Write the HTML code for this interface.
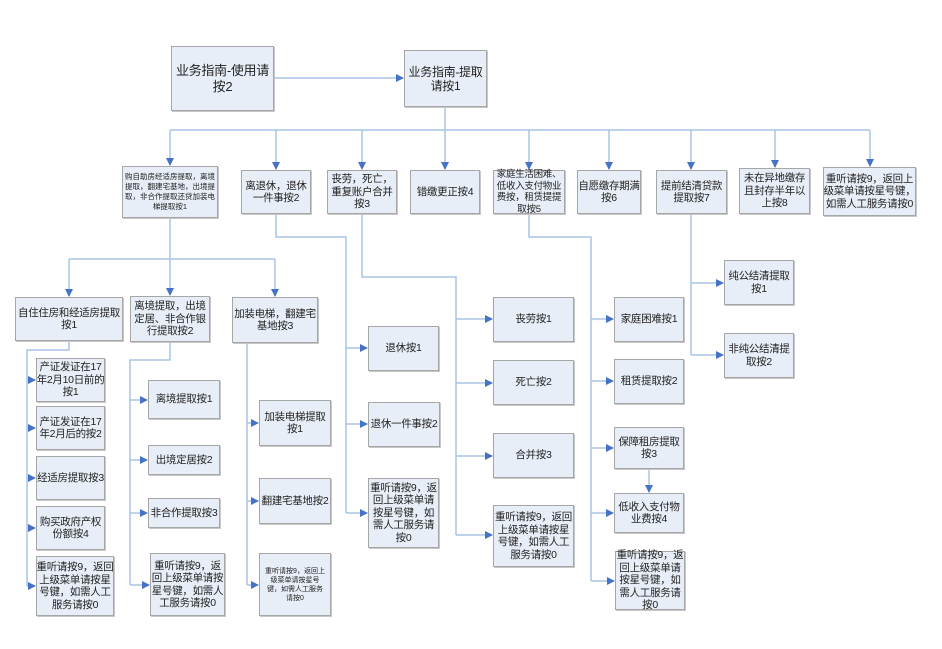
<!DOCTYPE html>
<html><head><meta charset="utf-8"><style>
body{margin:0;background:#fff;}
#c{position:relative;width:942px;height:649px;overflow:hidden;font-family:"Liberation Sans","Noto Sans CJK SC",sans-serif;}
.b{position:absolute;box-sizing:border-box;background:#e8eef7;border:1px solid #a6a6a6;box-shadow:1px 1px 0 #c8c8c8;display:flex;align-items:center;justify-content:center;text-align:center;font-size:10.5px;line-height:12.5px;letter-spacing:-0.3px;color:#222;padding:0;}
.b span{display:block;margin:0 -2px;}
svg{position:absolute;left:0;top:0;}
</style></head><body><div id="c">
<svg width="942" height="649">
<defs><marker id="a" markerWidth="8" markerHeight="8" refX="7" refY="4" orient="auto" markerUnits="userSpaceOnUse"><path d="M0,0 L8,4 L0,8 z" fill="#4472c4"/></marker></defs>
<g stroke="#a9c4e6" stroke-width="1.5" fill="none">
<path d="M274,78 H403" marker-end="url(#a)"/>
<path d="M445,107 V130 M170,130 H870"/>
<path d="M170,130 V165" marker-end="url(#a)"/>
<path d="M276,130 V169" marker-end="url(#a)"/>
<path d="M362,130 V169" marker-end="url(#a)"/>
<path d="M445,130 V169" marker-end="url(#a)"/>
<path d="M529,130 V169" marker-end="url(#a)"/>
<path d="M609,130 V169" marker-end="url(#a)"/>
<path d="M691,130 V169" marker-end="url(#a)"/>
<path d="M775,130 V167" marker-end="url(#a)"/>
<path d="M870,130 V166" marker-end="url(#a)"/>
<path d="M170,218 V259 M69,259 H275"/>
<path d="M69,259 V296" marker-end="url(#a)"/>
<path d="M170,259 V295" marker-end="url(#a)"/>
<path d="M275,259 V296" marker-end="url(#a)"/>
<path d="M69,341 V350 H27 V586"/>
<path d="M27,380 H35" marker-end="url(#a)"/>
<path d="M27,428 H35" marker-end="url(#a)"/>
<path d="M27,478 H35" marker-end="url(#a)"/>
<path d="M27,528 H35" marker-end="url(#a)"/>
<path d="M27,586 H35" marker-end="url(#a)"/>
<path d="M170,342 V360 H130 V585"/>
<path d="M130,400 H147" marker-end="url(#a)"/>
<path d="M130,460 H147" marker-end="url(#a)"/>
<path d="M130,513 H147" marker-end="url(#a)"/>
<path d="M130,585 H149" marker-end="url(#a)"/>
<path d="M247,343 V585"/>
<path d="M247,423 H258" marker-end="url(#a)"/>
<path d="M247,501 H258" marker-end="url(#a)"/>
<path d="M247,585 H258" marker-end="url(#a)"/>
<path d="M276,214 V237 H346 V513"/>
<path d="M346,348 H367" marker-end="url(#a)"/>
<path d="M346,424 H367" marker-end="url(#a)"/>
<path d="M346,513 H367" marker-end="url(#a)"/>
<path d="M362,214 V277 H456 V535"/>
<path d="M456,319 H492" marker-end="url(#a)"/>
<path d="M456,383 H492" marker-end="url(#a)"/>
<path d="M456,456 H492" marker-end="url(#a)"/>
<path d="M456,535 H492" marker-end="url(#a)"/>
<path d="M529,214 V237 H591 V581"/>
<path d="M591,319 H613" marker-end="url(#a)"/>
<path d="M591,381 H613" marker-end="url(#a)"/>
<path d="M591,448 H613" marker-end="url(#a)"/>
<path d="M591,513 H613" marker-end="url(#a)"/>
<path d="M591,581 H614" marker-end="url(#a)"/>
<path d="M649,469 V492" marker-end="url(#a)"/>
<path d="M691,214 V355"/>
<path d="M691,283 H723" marker-end="url(#a)"/>
<path d="M691,355 H723" marker-end="url(#a)"/>
</g></svg>
<div class="b" style="left:171px;top:46px;width:103px;height:65px;font-size:13px;line-height:16px"><span>业务指南-使用请<br>按2</span></div>
<div class="b" style="left:404px;top:50px;width:83px;height:57px;font-size:12px;line-height:14px"><span>业务指南-提取<br>请按1</span></div>
<div class="b" style="left:122px;top:166px;width:96px;height:52px;font-size:7.5px;line-height:10px;letter-spacing:0"><span>购自助房经适房提取，离境<br>提取，翻建宅基地，出境提<br>取，非合作提取还贷加装电<br>梯提取按1</span></div>
<div class="b" style="left:241px;top:170px;width:70px;height:44px"><span>离退休，退休<br>一件事按2</span></div>
<div class="b" style="left:327px;top:170px;width:70px;height:44px"><span>丧劳，死亡，<br>重复账户合并<br>按3</span></div>
<div class="b" style="left:410px;top:170px;width:70px;height:44px"><span>错缴更正按4</span></div>
<div class="b" style="left:493px;top:170px;width:72px;height:44px;font-size:9.5px;line-height:11.5px"><span>家庭生活困难、<br>低收入支付物业<br>费按，租赁提提<br>取按5</span></div>
<div class="b" style="left:577px;top:170px;width:64px;height:44px"><span>自愿缴存期满<br>按6</span></div>
<div class="b" style="left:656px;top:170px;width:71px;height:44px"><span>提前结清贷款<br>提取按7</span></div>
<div class="b" style="left:739px;top:168px;width:71px;height:46px"><span>未在异地缴存<br>且封存半年以<br>上按8</span></div>
<div class="b" style="left:823px;top:167px;width:93px;height:49px"><span>重听请按9，返回上<br>级菜单请按星号键，<br>如需人工服务请按0</span></div>
<div class="b" style="left:15px;top:297px;width:108px;height:44px"><span>自住住房和经适房提取<br>按1</span></div>
<div class="b" style="left:130px;top:296px;width:80px;height:46px"><span>离境提取，出境<br>定居、非合作银<br>行提取按2</span></div>
<div class="b" style="left:232px;top:297px;width:86px;height:46px"><span>加装电梯，翻建宅<br>基地按3</span></div>
<div class="b" style="left:36px;top:358px;width:69px;height:44px"><span>产证发证在17<br>年2月10日前的<br>按1</span></div>
<div class="b" style="left:36px;top:406px;width:69px;height:44px"><span>产证发证在17<br>年2月后的按2</span></div>
<div class="b" style="left:36px;top:456px;width:69px;height:44px"><span>经适房提取按3</span></div>
<div class="b" style="left:36px;top:506px;width:69px;height:44px"><span>购买政府产权<br>份额按4</span></div>
<div class="b" style="left:36px;top:556px;width:78px;height:60px"><span>重听请按9，返回<br>上级菜单请按星<br>号键，如需人工<br>服务请按0</span></div>
<div class="b" style="left:148px;top:380px;width:72px;height:39px"><span>离境提取按1</span></div>
<div class="b" style="left:148px;top:445px;width:72px;height:30px"><span>出境定居按2</span></div>
<div class="b" style="left:148px;top:498px;width:72px;height:30px"><span>非合作提取按3</span></div>
<div class="b" style="left:150px;top:553px;width:75px;height:63px"><span>重听请按9，返<br>回上级菜单请按<br>星号键，如需人<br>工服务请按0</span></div>
<div class="b" style="left:259px;top:400px;width:72px;height:46px"><span>加装电梯提取<br>按1</span></div>
<div class="b" style="left:259px;top:478px;width:72px;height:46px"><span>翻建宅基地按2</span></div>
<div class="b" style="left:259px;top:553px;width:72px;height:63px;font-size:7px;line-height:9px;letter-spacing:0"><span>重听请按9，返回上<br>级菜单请按星号<br>键，如需人工服务<br>请按0</span></div>
<div class="b" style="left:368px;top:326px;width:71px;height:45px"><span>退休按1</span></div>
<div class="b" style="left:368px;top:402px;width:72px;height:45px"><span>退休一件事按2</span></div>
<div class="b" style="left:368px;top:478px;width:71px;height:70px"><span>重听请按9，返<br>回上级菜单请<br>按星号键，如<br>需人工服务请<br>按0</span></div>
<div class="b" style="left:493px;top:297px;width:81px;height:45px"><span>丧劳按1</span></div>
<div class="b" style="left:493px;top:360px;width:81px;height:45px"><span>死亡按2</span></div>
<div class="b" style="left:493px;top:433px;width:81px;height:45px"><span>合并按3</span></div>
<div class="b" style="left:493px;top:505px;width:81px;height:62px"><span>重听请按9，返回<br>上级菜单请按星<br>号键，如需人工<br>服务请按0</span></div>
<div class="b" style="left:614px;top:297px;width:70px;height:45px"><span>家庭困难按1</span></div>
<div class="b" style="left:614px;top:359px;width:70px;height:45px"><span>租赁提取按2</span></div>
<div class="b" style="left:614px;top:427px;width:70px;height:42px"><span>保障租房提取<br>按3</span></div>
<div class="b" style="left:614px;top:493px;width:70px;height:40px"><span>低收入支付物<br>业费按4</span></div>
<div class="b" style="left:615px;top:551px;width:70px;height:59px"><span>重听请按9，返<br>回上级菜单请<br>按星号键，如<br>需人工服务请<br>按0</span></div>
<div class="b" style="left:724px;top:260px;width:70px;height:45px"><span>纯公结清提取<br>按1</span></div>
<div class="b" style="left:724px;top:333px;width:70px;height:45px"><span>非纯公结清提<br>取按2</span></div>
</div></body></html>
